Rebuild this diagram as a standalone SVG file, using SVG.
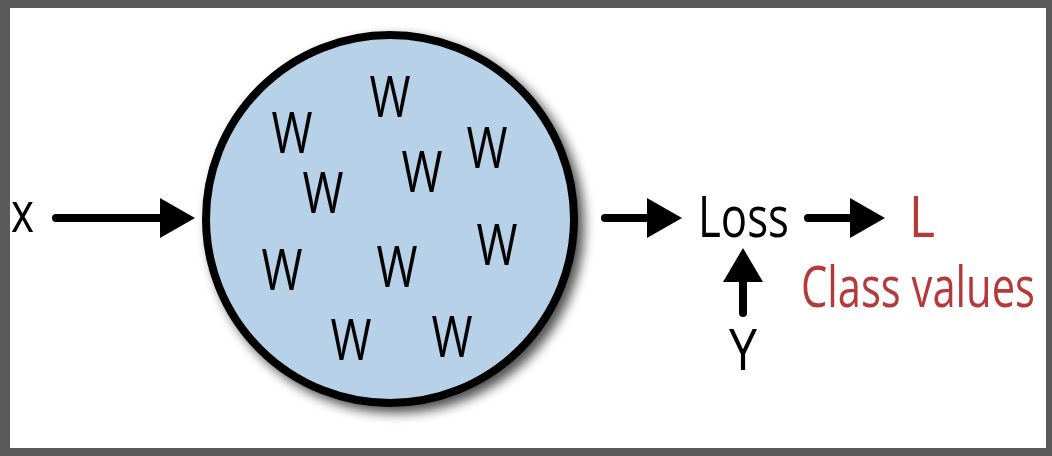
<svg xmlns="http://www.w3.org/2000/svg" width="1052" height="456" viewBox="0 0 1052 456">
  <defs>
    <style>
      .t { font-family: "Open Sans", "Noto Sans", sans-serif; font-size: 56px; fill: #000; }
      .w { text-anchor: middle; }
      .red { fill: #b5393a; }
      .line { stroke: #000; stroke-width: 8; stroke-linecap: round; fill: none; }
      .head { fill: #000; }
    </style>
    <filter id="shadow" x="-20%" y="-20%" width="140%" height="140%">
      <feGaussianBlur in="SourceAlpha" stdDeviation="6"/>
      <feOffset dx="6" dy="6" result="b"/>
      <feComponentTransfer><feFuncA type="linear" slope="0.7"/></feComponentTransfer>
      <feMerge><feMergeNode/><feMergeNode in="SourceGraphic"/></feMerge>
    </filter>
  </defs>

  <rect x="0" y="0" width="1052" height="456" fill="#5a5a5a"/>
  <rect x="10" y="8" width="1036" height="440" fill="#ffffff"/>

  <g id="network">
    <circle cx="390" cy="219" r="184" fill="#b7d1e8" stroke="#000" stroke-width="8" filter="url(#shadow)"/>
    <text class="t w" x="390" y="117" textLength="41" lengthAdjust="spacingAndGlyphs">W</text>
    <text class="t w" x="292" y="153" textLength="41" lengthAdjust="spacingAndGlyphs">W</text>
    <text class="t w" x="323" y="213" textLength="41" lengthAdjust="spacingAndGlyphs">W</text>
    <text class="t w" x="422" y="192" textLength="41" lengthAdjust="spacingAndGlyphs">W</text>
    <text class="t w" x="487" y="168" textLength="41" lengthAdjust="spacingAndGlyphs">W</text>
    <text class="t w" x="497" y="265" textLength="41" lengthAdjust="spacingAndGlyphs">W</text>
    <text class="t w" x="282" y="290" textLength="41" lengthAdjust="spacingAndGlyphs">W</text>
    <text class="t w" x="397" y="287" textLength="41" lengthAdjust="spacingAndGlyphs">W</text>
    <text class="t w" x="351" y="360" textLength="41" lengthAdjust="spacingAndGlyphs">W</text>
    <text class="t w" x="452" y="357" textLength="41" lengthAdjust="spacingAndGlyphs">W</text>
  </g>

  <g id="input-x">
    <text class="t" x="11" y="232" textLength="23" lengthAdjust="spacingAndGlyphs">x</text>
  </g>

  <g id="loss">
    <text class="t" x="698" y="237" textLength="91" lengthAdjust="spacingAndGlyphs">Loss</text>
  </g>

  <g id="output-L">
    <text class="t red" x="909" y="237" textLength="26" lengthAdjust="spacingAndGlyphs">L</text>
  </g>

  <g id="class-values">
    <text class="t red" transform="translate(801 307) scale(0.745 1)" x="0" y="0">Class values</text>
  </g>

  <g id="target-Y">
    <text class="t" x="743" y="370" text-anchor="middle" textLength="28" lengthAdjust="spacingAndGlyphs">Y</text>
  </g>

  <g id="connectors">
    <line class="line" x1="56" y1="218" x2="165" y2="218"/>
    <polygon class="head" points="160,198 195,218 160,238"/>
    <line class="line" x1="605" y1="218" x2="652" y2="218"/>
    <polygon class="head" points="647,198 682,218 647,238"/>
    <line class="line" x1="808" y1="218" x2="855" y2="218"/>
    <polygon class="head" points="850,198 885,218 850,238"/>
    <line class="line" x1="743" y1="313" x2="743" y2="278"/>
    <polygon class="head" points="723,282 743,248 763,282"/>
  </g>
</svg>
